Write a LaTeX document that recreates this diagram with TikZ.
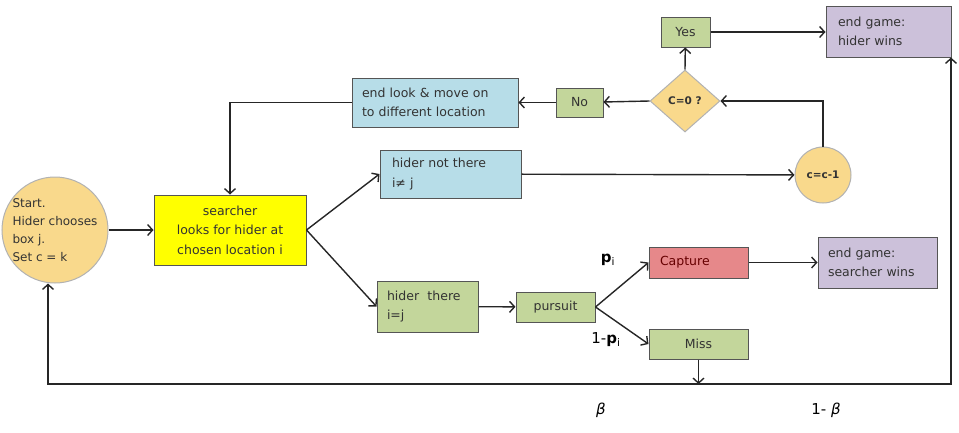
\documentclass[tikz,border=0pt]{standalone}
\usepackage{fontspec}
\setmainfont{DejaVu Sans}
\usetikzlibrary{arrows.meta, shapes.geometric, calc}
\definecolor{cyellow}{HTML}{FFFF00}
\definecolor{csand}{HTML}{F9D98C}
\definecolor{cgreen}{HTML}{C3D69B}
\definecolor{cblue}{HTML}{B7DDE8}
\definecolor{cpurple}{HTML}{CCC1DA}
\definecolor{cred}{HTML}{E6888A}
\definecolor{cline}{HTML}{555555}
\tikzset{
  every picture/.style={line width=1.4pt},
  box/.style={draw=cline, fill=#1, line width=1pt, inner sep=2pt, text=black!80},
  box/.default=cgreen,
  wh/.style 2 args={minimum width=#1, minimum height=#2},
  arrow/.style={-{Straight Barb[length=5pt, width=11pt]}, draw=black!85, line width=1.4pt},
  lbl/.style={font=\fontsize{15}{17}\selectfont},
}
\begin{document}
\begin{tikzpicture}[x=1pt, y=-1pt,
    every node/.append style={font=\fontsize{12.5}{19.5}\selectfont},
    soft/.style={box=csand, draw=black!30, inner sep=0pt},
    tiny/.style={font=\fontsize{10.5}{12}\selectfont\bfseries},
  ]
  \useasboundingbox (0,0) rectangle (959,432);

  % ---- start and search
  \node[soft, circle, minimum size=106, align=left, font=\fontsize{12}{18}\selectfont] (start) at (55,230) {Start.\\Hider chooses\\box j.\\Set c = k};
  \node[box=cyellow, wh={152}{70}, align=center] (search) at (230,230) {searcher\\looks for hider at\\chosen location i};

  % ---- hider not there
  \node[box=cblue, wh={141}{48}, text width=117, align=left] (notthere) at (450.5,174) {hider not there\\i≠ j};
  \node[soft, circle, minimum size=56, tiny] (cdec) at (823,175) {c=c-1};
  \node[soft, diamond, aspect=1.13, minimum width=70, minimum height=62, tiny] (cz) at (685,101) {C=0 ?};
  \node[box, wh={47}{29}] (no) at (579.5,102.5) {No};
  \node[box, wh={49}{30}] (yes) at (685.5,32) {Yes};
  \node[box=cblue, wh={166}{49}, text width=146, align=left] (endlook) at (435,102.5) {end look \& move on\\to different location};
  \node[box=cpurple, wh={125}{51}, text width=101, align=left] (hwin) at (888.5,31.5) {end game:\\hider wins};

  % ---- hider there
  \node[box, wh={101}{51}, text width=81, align=left] (there) at (427.5,306.5) {hider\ \ there\\i=j};
  \node[box, wh={79}{30}] (pursuit) at (555.5,307) {pursuit};
  \node[box=cred, wh={99}{31}, text width=77, align=left, text=red!40!black] (capture) at (698.5,262.5) {Capture};
  \node[box, wh={99}{30}] (miss) at (698.5,344) {Miss};
  \node[box=cpurple, wh={119}{51}, text width=99, align=left] (swin) at (877.5,262.5) {end game:\\searcher wins};

  % ---- labels
  \node[lbl] (pl) at (608,260) {\textbf{p}\textsubscript{i}};
  \node[lbl] (ql) at (606,340) {1-\textbf{p}\textsubscript{i}};
  \node[lbl] (beta) at (601,410) {\itshape β};
  \node[lbl] (omb) at (826,410) {1- {\itshape β}};

  \coordinate (bl) at (48,384);
  \coordinate (br) at (951,384);

  \draw[arrow] (start) -- (search);
  \draw[arrow] (search.east) -- (notthere.west);
  \draw[arrow] (search.east) -- (there.west);
  \draw[arrow] (notthere) -- (cdec);
  \draw[arrow] (cdec.north) |- (cz.east);
  \draw[arrow] (cz.west) -- (no);
  \draw[arrow] (no) -- (endlook);
  \draw[arrow] (endlook.west) -| (search.north);
  \draw[arrow] (cz.north) -- (yes);
  \draw[arrow] (yes) -- (yes -| hwin.west);
  \draw[arrow] (there) -- (pursuit);
  \draw[arrow] (pursuit.east) -- (capture.west);
  \draw[arrow] (pursuit.east) -- (miss.west);
  \draw[arrow] (capture) -- (swin);
  \draw[arrow] (miss.south) -- (miss.south |- bl);
  \draw[arrow, {Straight Barb[length=5pt, width=11pt]}-{Straight Barb[length=5pt, width=11pt]}]
    (br |- hwin.south) -- (br) -- (bl) -- (bl |- start.south);
\end{tikzpicture}
\end{document}
